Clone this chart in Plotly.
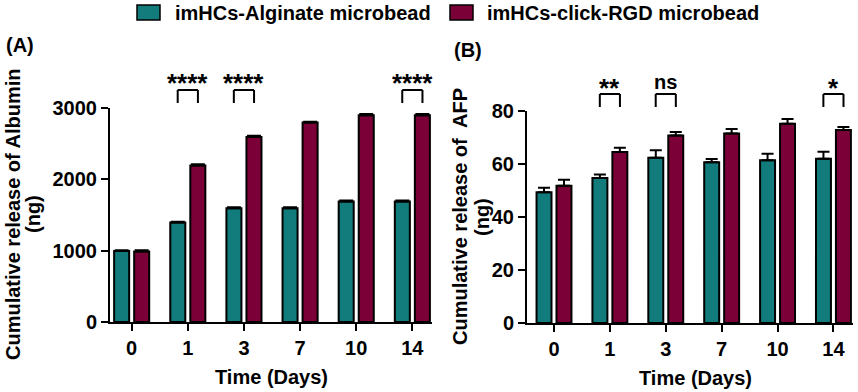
import plotly.graph_objects as go

W, H = 858, 392

days = ["0", "1", "3", "7", "10", "14"]
series_names = ["imHCs-Alginate microbead", "imHCs-click-RGD microbead"]

albumin_alg = [995, 1395, 1595, 1595, 1690, 1690]
albumin_alg_err = [12, 12, 12, 12, 15, 15]
albumin_rgd = [990, 2195, 2595, 2795, 2900, 2900]
albumin_rgd_err = [15, 15, 15, 12, 15, 15]

afp_alg = [49.3, 54.6, 62.3, 60.6, 61.3, 61.9]
afp_alg_err = [1.7, 1.4, 2.8, 1.2, 2.5, 2.6]
afp_rgd = [51.7, 64.4, 70.7, 71.4, 75.1, 72.7]
afp_rgd_err = [2.3, 1.6, 1.3, 1.7, 1.8, 1.2]

sig_albumin = {"1": "****", "3": "****", "14": "****"}
sig_afp = {"1": "**", "3": "ns", "14": "*"}

ytitle_albumin = ["Cumulative release of Albumin", "(ng)"]
ytitle_afp = ["Cumulative release of  AFP", "(ng)"]
xtitle = "Time (Days)"

TEAL = "#127B7B"
MAROON = "#7C0038"
FONT = "Arial, Liberation Sans, sans-serif"


def px(x):
    return x / W


def py(y):
    return 1 - y / H


fig = go.Figure()

for (vals, errs, color, name, xa, ya, cap) in [
    (albumin_alg, albumin_alg_err, TEAL, series_names[0], "x", "y", 7),
    (albumin_rgd, albumin_rgd_err, MAROON, series_names[1], "x", "y", 7),
    (afp_alg, afp_alg_err, TEAL, series_names[0], "x2", "y2", 6),
    (afp_rgd, afp_rgd_err, MAROON, series_names[1], "x2", "y2", 6),
]:
    fig.add_trace(go.Bar(
        x=days, y=vals, name=name, xaxis=xa, yaxis=ya, showlegend=False,
        offsetgroup=name,
        marker=dict(color=color, line=dict(color="black", width=2)),
        error_y=dict(type="data", array=errs, arrayminus=[0] * len(errs),
                     symmetric=False, color="black", thickness=2, width=cap),
    ))

TICKFONT = dict(family=FONT, size=20, color="black", weight="bold")
axis_common = dict(
    showline=True, linecolor="black", linewidth=2, ticks="outside",
    ticklen=7, tickwidth=2, tickcolor="black", showgrid=False, zeroline=False,
    tickfont=TICKFONT, automargin=False,
)

fig.update_layout(
    width=W, height=H, margin=dict(l=0, r=0, t=0, b=0, pad=0),
    autosize=False,
    paper_bgcolor="white", plot_bgcolor="white",
    barmode="group", bargap=0.286, bargroupgap=0.25,
    font=dict(family=FONT, size=20, color="black", weight="bold"),
    xaxis=dict(domain=[px(110), px(432)], anchor="y", type="category",
               categoryorder="array", categoryarray=days,
               range=[-0.386, 5.35], **axis_common),
    yaxis=dict(domain=[py(322), py(108)], anchor="x", range=[0, 3000],
               tickvals=[0, 1000, 2000, 3000], **axis_common),
    xaxis2=dict(domain=[px(527), px(853)], anchor="y2", type="category",
                categoryorder="array", categoryarray=days,
                range=[-0.483, 5.35], **axis_common),
    yaxis2=dict(domain=[py(323), py(110.7)], anchor="x2", range=[0, 80],
                tickvals=[0, 20, 40, 60, 80], **axis_common),
)

shapes = []
annotations = []

# significance brackets
for sig, xref, ytop, ybot, ystar in [
    (sig_albumin, "x", 90, 103, 77),
    (sig_afp, "x2", 94, 107, 82),
]:
    for day, label in sig.items():
        i = days.index(day)
        xl, xr = i - 0.18, i + 0.18
        line = dict(color="black", width=2)
        shapes.append(dict(type="line", xref=xref, yref="paper", x0=xl, x1=xr,
                           y0=py(ytop), y1=py(ytop), line=line))
        shapes.append(dict(type="line", xref=xref, yref="paper", x0=xl, x1=xl,
                           y0=py(ytop), y1=py(ybot), line=line))
        shapes.append(dict(type="line", xref=xref, yref="paper", x0=xr, x1=xr,
                           y0=py(ytop), y1=py(ybot), line=line))
        is_star = "*" in label
        annotations.append(dict(
            x=i, xref=xref, y=py(ystar + (6 if is_star else 0)), yref="paper",
            text=label, showarrow=False, xanchor="center", yanchor="middle",
            font=dict(family=FONT, size=26 if is_star else 20, color="black",
                      weight="bold")))

# legend (manual)
for (x0, x1, color, tx, name) in [
    (137, 160, TEAL, 173, series_names[0]),
    (450, 473, MAROON, 485, series_names[1]),
]:
    shapes.append(dict(type="rect", xref="paper", yref="paper",
                       x0=px(x0), x1=px(x1), y0=py(20), y1=py(5),
                       fillcolor=color, line=dict(color="black", width=1.5)))
    annotations.append(dict(x=px(tx), y=py(13.5), xref="paper", yref="paper",
                            text=name, showarrow=False, xanchor="left",
                            yanchor="middle",
                            font=dict(family=FONT, size=20, color="black",
                                      weight="bold")))

# panel labels
annotations.append(dict(x=px(4), y=py(45), xref="paper", yref="paper",
                        text="(A)", showarrow=False, xanchor="left",
                        yanchor="middle"))
annotations.append(dict(x=px(452), y=py(50), xref="paper", yref="paper",
                        text="(B)", showarrow=False, xanchor="left",
                        yanchor="middle"))

# axis titles (each y title line placed separately)
for lines, xs, yc in [
    (ytitle_albumin, (13, 33), 214),
    (ytitle_afp, (460, 482), 217),
]:
    for txt, xc in zip(lines, xs):
        annotations.append(dict(x=px(xc), y=py(yc), xref="paper",
                                yref="paper", text=txt, showarrow=False,
                                textangle=-90, xanchor="center",
                                yanchor="middle"))
annotations.append(dict(x=px(271), y=py(377), xref="paper", yref="paper",
                        text=xtitle, showarrow=False,
                        xanchor="center", yanchor="middle"))
annotations.append(dict(x=px(695), y=py(378), xref="paper", yref="paper",
                        text=xtitle, showarrow=False,
                        xanchor="center", yanchor="middle"))

fig.update_layout(shapes=shapes, annotations=annotations)

fig.write_html(
    "out.html",
    config={"responsive": False, "displayModeBar": False},
    post_script="document.body.style.margin='0px';"
                "document.body.style.overflow='hidden';",
)
